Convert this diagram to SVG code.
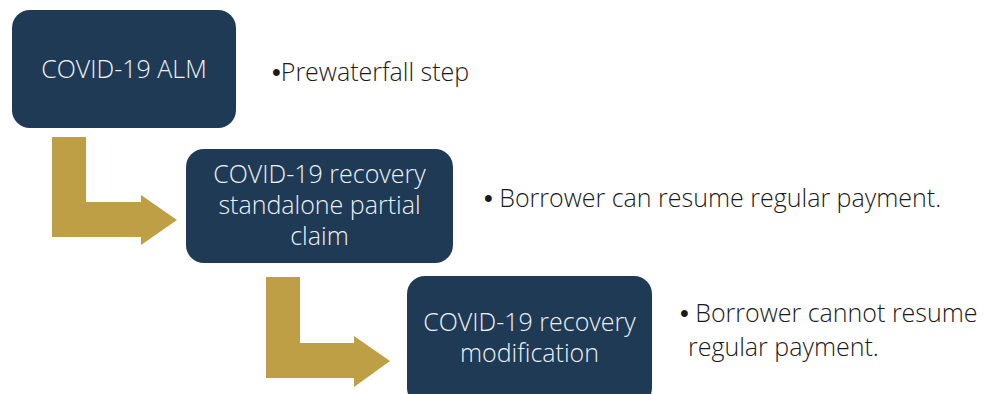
<svg xmlns="http://www.w3.org/2000/svg" width="984" height="394" viewBox="0 0 984 394">
  <style>
    .box { fill: #1f3a54; }
    .box-text { font-family: "Open Sans", "Liberation Sans", sans-serif; font-weight: 300; font-size: 25px; fill: #eef1f4; text-anchor: middle; }
    .note { font-family: "Open Sans", "Liberation Sans", sans-serif; font-weight: 300; font-size: 25px; fill: #1a1a1a; }
    .dot { font-family: "Liberation Sans", sans-serif; font-weight: 400; }
    .bent-arrow { fill: #bf9f45; }
  </style>
  <rect width="984" height="394" fill="#ffffff"/>

  <!-- bent arrows between steps -->
  <g id="connectors">
    <path class="bent-arrow" d="M52 137 H86 V202 H141 V195 L177 220 L141 245 V237 H52 Z"/>
    <path class="bent-arrow" d="M266 277 H300 V343 H354 V336 L390 361 L354 387 V378 H266 Z"/>
  </g>

  <g id="step-alm">
    <rect class="box" x="12" y="10" width="224" height="118" rx="18"/>
    <text class="box-text" x="124" y="78">COVID-19 ALM</text>
  </g>

  <g id="step-partial-claim">
    <rect class="box" x="186" y="149" width="267" height="114" rx="18"/>
    <text class="box-text" x="319.5" y="183">COVID-19 recovery</text>
    <text class="box-text" x="319.5" y="214">standalone partial</text>
    <text class="box-text" x="319.5" y="245">claim</text>
  </g>

  <g id="step-modification">
    <rect class="box" x="407" y="276" width="245" height="130" rx="18"/>
    <text class="box-text" x="529.5" y="331">COVID-19 recovery</text>
    <text class="box-text" x="529.5" y="362">modification</text>
  </g>

  <g id="note-alm">
    <text class="note" x="272" y="81"><tspan class="dot">•</tspan>Prewaterfall step</text>
  </g>
  <g id="note-partial-claim">
    <text class="note" x="484" y="207"><tspan class="dot">•</tspan> Borrower can resume regular payment.</text>
  </g>
  <g id="note-modification">
    <text class="note" x="680" y="322"><tspan class="dot">•</tspan> Borrower cannot resume</text>
    <text class="note" x="688" y="356">regular payment.</text>
  </g>
</svg>
